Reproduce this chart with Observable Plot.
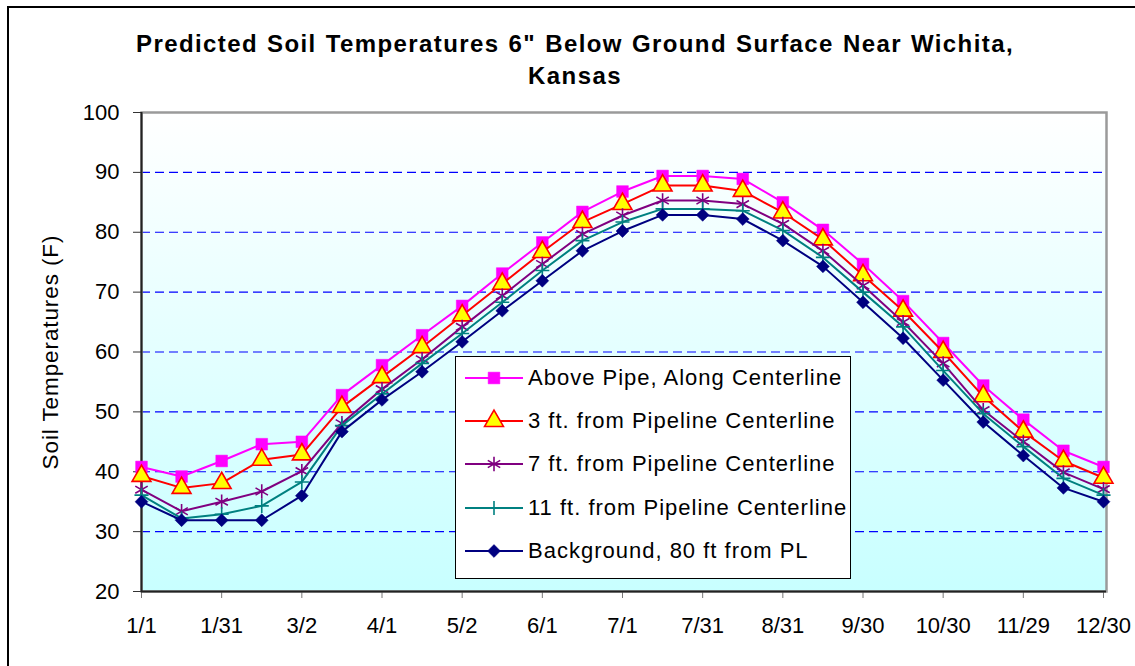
<!DOCTYPE html>
<html><head><meta charset="utf-8">
<script src="https://cdn.jsdelivr.net/npm/d3@7"></script>
<script src="https://cdn.jsdelivr.net/npm/@observablehq/plot@0.6"></script>
<style>
body{margin:0;background:#fff;font-family:"Liberation Sans",Arial,sans-serif;}
#wrap{position:relative;width:1135px;height:666px;overflow:hidden;background:#fff;}
#frame{position:absolute;left:7px;top:6px;width:1200px;height:720px;border:2px solid #000;box-sizing:border-box;pointer-events:none;}
#chart{position:absolute;left:0;top:0;}
#title{position:absolute;left:0;width:1150px;top:28px;text-align:center;font-weight:bold;font-size:24px;letter-spacing:1.4px;word-spacing:1px;line-height:32px;color:#000;}
#legend{position:absolute;left:455px;top:356px;width:396px;height:223px;background:#fff;border:1px solid #000;box-sizing:border-box;}
.row{position:absolute;left:0;height:30px;display:flex;align-items:center;}
.row svg{margin-left:9px;}
.row span{margin-left:5px;font-size:22px;letter-spacing:1px;white-space:nowrap;}
.ylab text{letter-spacing:0.9px;}
</style>
</head><body>
<div id="wrap">
  <div id="chart"></div>
  <div id="frame"></div>
  <div id="title">Predicted Soil Temperatures 6" Below Ground Surface Near Wichita,<br>Kansas</div>
  <div id="legend"></div>
</div>
<script>
// x categories: 25 points, labels shown on every other point
const tickLabels = ["1/1","1/31","3/2","4/1","5/2","6/1","7/1","7/31","8/31","9/30","10/30","11/29","12/30"];
const yTicks = [20,30,40,50,60,70,80,90,100];
const gridValues = [30,40,50,60,70,80,90];

const seriesNames = ["Above Pipe, Along Centerline","3 ft. from Pipeline Centerline","7 ft. from Pipeline Centerline","11 ft. from Pipeline Centerline","Background, 80 ft from PL"];
const abovePipe  = [40.8,39.2,41.8,44.6,45.0,52.8,57.8,62.8,67.7,73.1,78.3,83.4,86.8,89.4,89.4,88.9,85.0,80.4,74.7,68.5,61.5,54.4,48.7,43.5,40.8];
const threeFt    = [39.3,37.3,38.1,42.0,42.9,50.8,55.8,60.8,66.1,71.4,76.7,81.7,84.7,87.8,87.8,86.9,83.3,78.8,72.8,66.9,60.0,52.6,46.7,41.8,39.0];
const sevenFt    = [37.0,33.4,35.0,36.7,40.1,48.1,53.8,58.8,64.2,69.4,74.7,79.7,82.8,85.3,85.3,84.7,81.4,76.9,71.1,65.0,58.1,50.3,45.0,39.9,37.1];
const elevenFt   = [36.1,32.2,32.9,34.3,38.3,47.7,53.0,58.1,63.1,68.3,73.6,78.6,81.7,83.9,83.9,83.6,80.3,75.8,70.0,64.2,56.9,49.7,44.2,38.9,36.1];
const background = [35.0,31.9,31.9,31.9,36.0,46.7,52.0,56.7,61.7,66.9,71.9,76.9,80.2,82.9,82.9,82.2,78.6,74.3,68.3,62.3,55.3,48.3,42.7,37.3,35.0];

const styles = [
  {line:"#ff00ff", symbol:"square",   r:6.6, fill:"#ff00ff", stroke:"#ff00ff", sw:0.5},
  {line:"#ff0000", symbol:"triangle", r:7.0, fill:"#ffff00", stroke:"#ff0000", sw:1.6},
  {line:"#800080", symbol:"asterisk", r:6.8, fill:"none",    stroke:"#800080", sw:1.6},
  {line:"#008080", symbol:"plus",     r:4.6, fill:"none",    stroke:"#008080", sw:1.6},
  {line:"#000080", symbol:"diamond2", r:5.8, fill:"#000080", stroke:"#000080", sw:0.5}
];
const allValues = [abovePipe, threeFt, sevenFt, elevenFt, background];
const series = allValues.map((vals, k) => vals.map((v, i) => ({i, v, name: seriesNames[k]})));

const marks = [
  Plot.frame({fill: "url(#bgGrad)"}),
  Plot.ruleY(gridValues, {stroke: "#0000ff", strokeWidth: 1.1, strokeDasharray: "9,5"}),
  Plot.frame({stroke: "#9a9a9a", strokeWidth: 2.5}),
  Plot.axisY({ticks: yTicks, tickSize: 8, tickPadding: 14, fontSize: 22, stroke: "#333", label: null}),
  Plot.axisX({ticks: d3.range(0, 25, 2), tickFormat: i => tickLabels[i / 2], tickSize: 7, tickPadding: 19, fontSize: 22, stroke: "#777", label: null}),
  Plot.ruleX([0], {stroke: "#222", strokeWidth: 2}),
  Plot.ruleY([20], {stroke: "#222", strokeWidth: 2}),
  Plot.text(["Soil Temperatures (F)"], {frameAnchor: "left", rotate: -90, dx: -91, fontSize: 22.5, fill: "#000", textAnchor: "middle", className: "ylab"})
];
series.forEach((data, k) => {
  const s = styles[k];
  marks.push(Plot.line(data, {x: "i", y: "v", stroke: s.line, strokeWidth: 2}));
  marks.push(Plot.dot(data, {x: "i", y: "v", symbol: s.symbol, r: s.r, fill: s.fill, stroke: s.stroke, strokeWidth: s.sw}));
});

const chart = Plot.plot({
  width: 1135, height: 666,
  marginLeft: 141, marginTop: 112, marginBottom: 75, marginRight: 29,
  x: {type: "linear", domain: [0, 24], range: [141, 1103]},
  y: {domain: [20, 100], range: [591, 112]},
  style: {fontFamily: "'Liberation Sans', Arial, sans-serif", fontSize: "22px", background: "transparent", color: "#000"},
  marks
});
// gradient definition for the plot background
const ns = "http://www.w3.org/2000/svg";
const defs = document.createElementNS(ns, "defs");
defs.innerHTML = '<linearGradient id="bgGrad" x1="0" y1="0" x2="0" y2="1"><stop offset="0" stop-color="#ffffff"/><stop offset="1" stop-color="#c8ffff"/></linearGradient>';
chart.insertBefore(defs, chart.firstChild);
document.getElementById("chart").appendChild(chart);

// legend
const legend = document.getElementById("legend");
const symMap = {square: d3.symbolSquare, triangle: d3.symbolTriangle, asterisk: d3.symbolAsterisk, plus: d3.symbolPlus, diamond2: d3.symbolDiamond2};
seriesNames.forEach((name, k) => {
  const s = styles[k];
  const row = document.createElement("div");
  row.className = "row";
  row.style.top = (5.7 + k * 43.3) + "px";
  const path = d3.symbol(symMap[s.symbol], Math.PI * s.r * s.r)();
  row.innerHTML = `<svg width="58" height="30" viewBox="0 0 58 30"><line x1="0" x2="58" y1="15" y2="15" stroke="${s.line}" stroke-width="2"/><path transform="translate(29,15)" d="${path}" fill="${s.fill}" stroke="${s.stroke}" stroke-width="${s.sw}"/></svg><span>${name}</span>`;
  legend.appendChild(row);
});
</script>
</body></html>
